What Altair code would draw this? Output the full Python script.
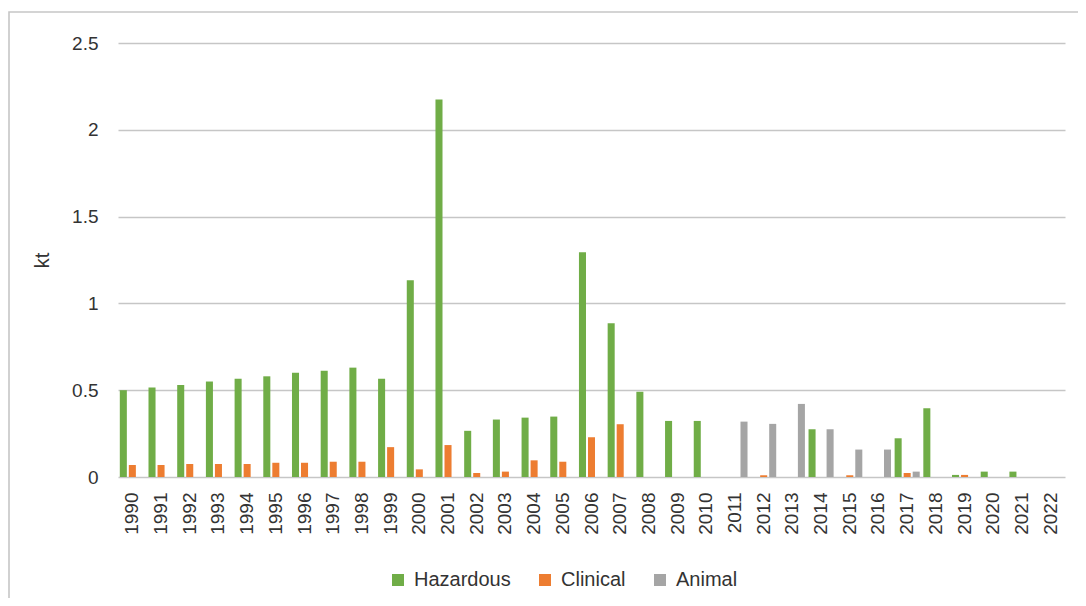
import altair as alt
import pandas as pd

years = ["1990", "1991", "1992", "1993", "1994", "1995", "1996", "1997", "1998", "1999",
         "2000", "2001", "2002", "2003", "2004", "2005", "2006", "2007", "2008", "2009",
         "2010", "2011", "2012", "2013", "2014", "2015", "2016", "2017", "2018", "2019",
         "2020", "2021", "2022"]

hazardous = [0.50, 0.515, 0.53, 0.55, 0.566, 0.58, 0.60, 0.612, 0.63, 0.566,
             1.134, 2.174, 0.266, 0.331, 0.342, 0.348, 1.294, 0.885, 0.491, 0.323,
             0.323, 0.0, 0.0, 0.0, 0.275, 0.0, 0.0, 0.223, 0.396, 0.012,
             0.031, 0.031, 0.0]

clinical = [0.069, 0.069, 0.075, 0.075, 0.075, 0.082, 0.082, 0.088, 0.088, 0.172,
            0.044, 0.184, 0.023, 0.031, 0.096, 0.088, 0.229, 0.304, 0.0, 0.0,
            0.0, 0.0, 0.010, 0.0, 0.0, 0.010, 0.0, 0.023, 0.0, 0.012,
            0.0, 0.0, 0.0]

animal = [0.0, 0.0, 0.0, 0.0, 0.0, 0.0, 0.0, 0.0, 0.0, 0.0,
          0.0, 0.0, 0.0, 0.0, 0.0, 0.0, 0.0, 0.0, 0.0, 0.0,
          0.0, 0.319, 0.306, 0.421, 0.275, 0.158, 0.158, 0.031, 0.0, 0.0,
          0.0, 0.0, 0.0]

series_names = ["Hazardous", "Clinical", "Animal"]
series_colors = ["#70AD47", "#ED7D31", "#A5A5A5"]
y_ticks = [0, 0.5, 1, 1.5, 2, 2.5]

rows = []
for name, vals in zip(series_names, [hazardous, clinical, animal]):
    for yr, v in zip(years, vals):
        rows.append({"year": yr, "series": name, "value": v})
df = pd.DataFrame(rows)

FONT = "Liberation Sans"
TXT = "#333333"
W, H = 947, 434

bars = alt.Chart(df).mark_bar().encode(
    x=alt.X("year:N", sort=years,
            scale=alt.Scale(paddingInner=0, paddingOuter=0),
            axis=alt.Axis(title=None, labelAngle=270, labelAlign="right",
                          labelBaseline="middle", labelPadding=15, ticks=False,
                          domain=False, grid=False, labelFont=FONT,
                          labelFontSize=19, labelColor=TXT)),
    xOffset=alt.XOffset("series:N", sort=series_names,
                        scale=alt.Scale(domain=series_names, paddingInner=0.22, paddingOuter=0.2)),
    y=alt.Y("value:Q",
            scale=alt.Scale(domain=[0, 2.5], nice=False),
            axis=alt.Axis(title="kt", values=y_ticks, labelExpr="'' + datum.value",
                          ticks=False, domain=False, labelPadding=20,
                          labelFont=FONT, labelFontSize=19, labelColor=TXT,
                          titleFont=FONT, titleFontSize=20, titleFontWeight="normal",
                          titleColor=TXT, titleAngle=270, titleX=-76, titleY=217,
                          titleAlign="center", titleBaseline="middle",
                          gridColor="#C6C6C6", gridWidth=1.6)),
    color=alt.Color("series:N", sort=series_names,
                    scale=alt.Scale(domain=series_names, range=series_colors),
                    legend=alt.Legend(title=None, orient="none", legendX=270, legendY=527,
                                      direction="horizontal", symbolType="square",
                                      symbolSize=144, symbolStrokeWidth=0,
                                      labelFont=FONT, labelFontSize=20, labelColor=TXT,
                                      columnPadding=24, labelOffset=6)),
)

border = alt.Chart(pd.DataFrame({"a": [0]})).mark_rect(
    fillOpacity=0, stroke="#C6C6C6", strokeWidth=1.6
).encode(
    x=alt.value(-109), x2=alt.value(W + 100),
    y=alt.value(-31), y2=alt.value(H + 300),
)

chart = alt.layer(border, bars).properties(
    width=W, height=H,
    autosize=alt.AutoSizeParams(type="none"),
    padding={"left": 110, "top": 35, "right": 13, "bottom": 121},
).configure_view(strokeWidth=0)

chart.save("out.html", embed_options={"renderer": "svg", "actions": False})
